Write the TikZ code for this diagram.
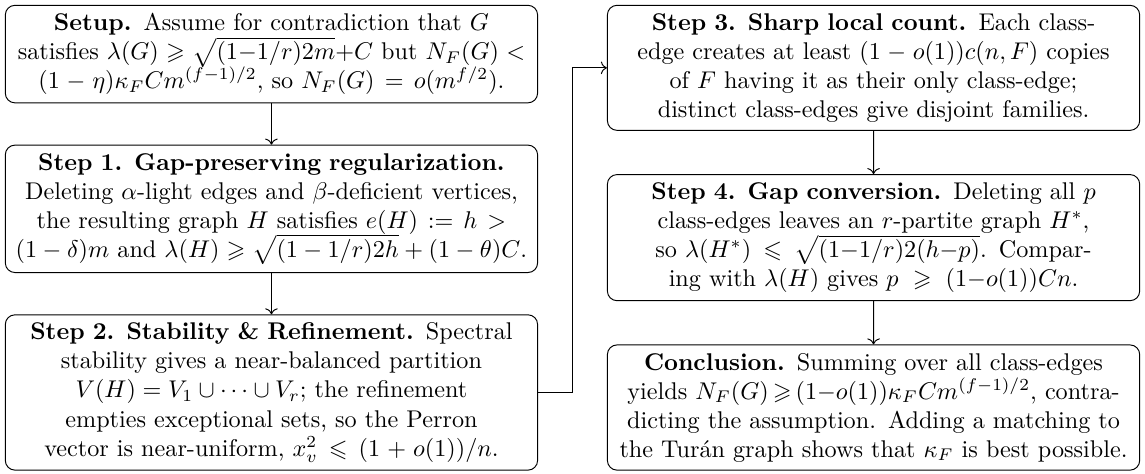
\documentclass[tikz,border=0pt]{standalone}
\usepackage{amsmath,amssymb}
\usetikzlibrary{positioning,calc,arrows.meta}

\begin{document}
\begin{tikzpicture}[node distance=6mm and 10mm,
  box/.style={draw, rounded corners, align=center, text width=7.5cm}]
% left column
\node[box] (setup) {\textbf{Setup.} Assume for contradiction that $G$
  satisfies $\lambda(G)\geqslant\sqrt{(1{-}1/r)2m}{+}C$ but $N_F(G)<(1-\eta)\kappa_F Cm^{(f-1)/2}$,
  so $N_F(G)=o(m^{f/2})$.};
\node[box, below=of setup] (step1) {\textbf{Step 1. Gap-preserving regularization.}
  Deleting $\alpha$-light edges and $\beta$-deficient vertices,
  the resulting graph $H$ satisfies $e(H):=h>(1-\delta)m$ and
  $\lambda(H)\geqslant\sqrt{(1-1/r)2h}+(1-\theta)C$.};
\node[box, below=of step1] (step2) {\textbf{Step 2. Stability \& Refinement.} Spectral\\
  stability gives a near-balanced partition\\
  \mbox{$V(H)=V_1\cup\cdots\cup V_r$}; the refinement\\
  empties exceptional sets, so the Perron\\
  vector is near-uniform, $x_v^2\leqslant(1+o(1))/n$.};
% right column
\node[box, right=of setup.north east, anchor=north west] (step3) {\textbf{Step 3. Sharp local count.} Each class-\\
  edge creates at least $(1-o(1))c(n,F)$ copies\\
  of $F$ having it as their only class-edge;\\
  distinct class-edges give disjoint families.};
\node[box, anchor=south] (concl) at (step3.south |- step2.south) {\textbf{Conclusion.}
  Summing over all class-edges yields $N_F(G)\,{\geqslant}\,(1{-}o(1))\kappa_F Cm^{(f-1)/2}$,
  contradicting the assumption. Adding a matching to the Tur\'an graph shows that
  $\kappa_F$ is best possible.};
\node[box] (step4) at ($(step3.south)!0.5!(concl.north)$) {\textbf{Step 4. Gap conversion.}
  Deleting all $p$ class-edges leaves an $r$-partite graph $H^*$,
  so $\lambda(H^*)\leqslant\sqrt{(1{-}1/r)2(h{-}p)}$. Comparing with $\lambda(H)$
  gives $p\geqslant(1{-}o(1))Cn$.};

\draw[->] (setup) -- (step1);
\draw[->] (step1) -- (step2);
\draw[->] (step2.east) -- ++(5mm,0) |- (step3.west);
\draw[->] (step3) -- (step4);
\draw[->] (step4) -- (concl);

\path (current bounding box.north west) +(-2pt,2pt)
      (current bounding box.south east) +(2pt,-1pt);
\end{tikzpicture}
\end{document}
